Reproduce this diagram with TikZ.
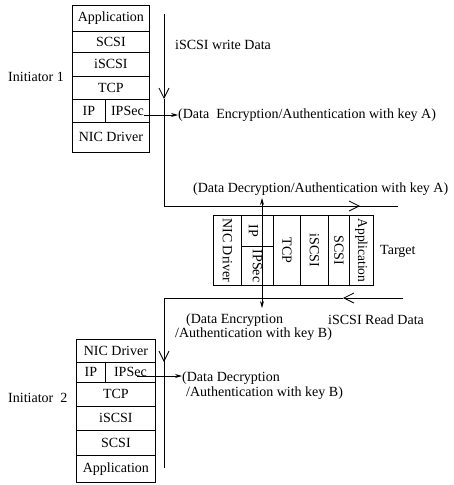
\documentclass[tikz,border=0pt]{standalone}
\usepackage{fontspec}
\setmainfont{Liberation Serif}
\usetikzlibrary{arrows.meta}
\begin{document}
\begin{tikzpicture}[x=1pt,y=-1pt,
  tf/.style={font=\fontsize{14}{16}\selectfont},
  cell/.style={draw, line width=0.8pt, inner sep=0pt, anchor=north west, tf},
  lab/.style={inner sep=0pt, tf},
  flow/.style={line width=0.8pt},
  vhead/.style={-{Straight Barb[length=10pt,width=10pt,line width=0.8pt]}},
  thin/.style={line width=0.8pt, -{Stealth[length=7pt,width=4pt]}},
  dbl/.style={line width=0.8pt, {Stealth[length=7pt,width=4pt]}-{Stealth[length=7pt,width=4pt]}}
]
\useasboundingbox (0,0) rectangle (454,485);

% ---------- Initiator 1 stack ----------
\node[cell, minimum width=77pt, minimum height=26pt] (app1) at (72,5) {Application};
\node[cell, minimum width=77pt, minimum height=21pt] (scsi1) at (72,31) {SCSI};
\node[cell, minimum width=77pt, minimum height=24pt] (iscsi1) at (72,52) {iSCSI};
\node[cell, minimum width=77pt, minimum height=23pt] (tcp1) at (72,76) {TCP};
\node[cell, minimum width=33pt, minimum height=23pt] (ip1) at (72,99) {IP};
\node[cell, minimum width=44pt, minimum height=23pt] (ipsec1) at (105,99) {IPSec};
\node[cell, minimum width=77pt, minimum height=30pt] (nic1) at (72,122) {NIC Driver};
\node[lab, anchor=west] (init1) at (8,77) {Initiator 1};

% ---------- Initiator 2 stack ----------
\node[cell, minimum width=79pt, minimum height=23pt] (nic2) at (76,339) {NIC Driver};
\node[cell, minimum width=29pt, minimum height=20pt] (ip2) at (76,362) {IP};
\node[cell, minimum width=50pt, minimum height=20pt] (ipsec2) at (105,362) {IPSec};
\node[cell, minimum width=79pt, minimum height=24pt] (tcp2) at (76,382) {TCP};
\node[cell, minimum width=79pt, minimum height=24pt] (iscsi2) at (76,406) {iSCSI};
\node[cell, minimum width=79pt, minimum height=25pt] (scsi2) at (76,430) {SCSI};
\node[cell, minimum width=79pt, minimum height=27pt] (app2) at (76,455) {Application};
\node[lab, anchor=west] (init2) at (8,398) {Initiator\ \ 2};

% ---------- Target stack (rotated) ----------
\node[cell, minimum width=28pt, minimum height=70pt] (nict) at (213,215) {};
\node[lab, rotate=-90] at (nict.center) {NIC Driver};
\node[cell, minimum width=32pt, minimum height=31pt] (ipt) at (241,215) {};
\node[lab, rotate=-90] at ([xshift=-4pt]ipt.center) {IP};
\node[cell, minimum width=32pt, minimum height=39pt] (ipsect) at (241,246) {};
\node[lab, rotate=-90] at (ipsect.center) {IPSec};
\node[cell, minimum width=27pt, minimum height=70pt] (tcpt) at (273,215) {};
\node[lab, rotate=-90] at (tcpt.center) {TCP};
\node[cell, minimum width=28pt, minimum height=70pt] (iscsit) at (300,215) {};
\node[lab, rotate=-90] at (iscsit.center) {iSCSI};
\node[cell, minimum width=21pt, minimum height=70pt] (scsit) at (328,215) {};
\node[lab, rotate=-90] at (scsit.center) {SCSI};
\node[cell, minimum width=24pt, minimum height=70pt] (appt) at (349,215) {};
\node[lab, rotate=-90, font=\fontsize{13.5}{16}\selectfont] at (appt.center) {Application};
\node[lab, anchor=west] (target) at (380,251) {Target};

% ---------- Labels ----------
\node[lab, anchor=west] (wr) at (175,45) {iSCSI write Data};
\node[lab, anchor=west] (encA) at (178,115) {(Data\ \ Encryption/Authentication with key A)};
\node[lab, anchor=west] (decA) at (193,189) {(Data Decryption/Authentication with key A)};
\node[lab, anchor=west] (encB1) at (186,320) {(Data Encryption};
\node[lab, anchor=west] (encB2) at (175,334) {/Authentication with key B)};
\node[lab, anchor=west] (rd) at (328,320) {iSCSI Read Data};
\node[lab, anchor=west] (decB1) at (182,378) {(Data Decryption};
\node[lab, anchor=west] (decB2) at (186,393) {/Authentication with key B)};

% ---------- Flow lines ----------
\coordinate (w0) at (164,14);
\coordinate (wv) at (164,99);
\coordinate (wc) at (164,206);
\coordinate (wh) at (360,206);
\coordinate (we) at (398,206);
\draw[flow, vhead] (w0) -- (wv);
\draw[flow] (wv) -- (wc) -- (we);
\draw[flow, vhead] (wc) -- (wh);

\coordinate (r0) at (403,298);
\coordinate (rh) at (343,298);
\coordinate (rc) at (164,298);
\coordinate (rv) at (164,362);
\coordinate (re) at (164,468);
\draw[flow, vhead] (r0) -- (rh);
\draw[flow] (rh) -- (rc) -- (rv);
\draw[flow, vhead] (rc) -- (rv);
\draw[flow] (rv) -- (re);

% ---------- IPSec arrows ----------
\coordinate (dt) at (262,198);
\coordinate (db) at (262,308);
\draw[dbl] (dt) -- (db);
\draw[thin] (ipsec1.east |- encA.west) ++(-6pt,0) -- (encA.west);
\draw[thin] (137,376) -- (decB1.west |- 0,376);
\end{tikzpicture}
\end{document}
